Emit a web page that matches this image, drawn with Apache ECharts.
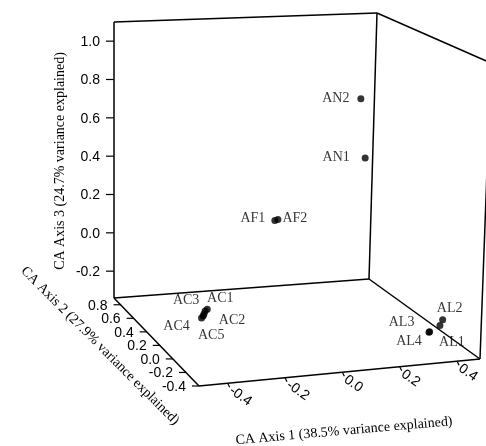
<!DOCTYPE html>
<html>
<head>
<meta charset="utf-8">
<script src="https://cdn.jsdelivr.net/npm/echarts@6/dist/echarts.min.js"></script>
<style>
html,body{margin:0;padding:0;background:#fff;}
#chart{width:486px;height:446px;}
</style>
</head>
<body>
<div id="chart"></div>
<script>
// ---- data ----
const names = ['AN1','AN2','AF1','AF2','AC1','AC2','AC3','AC4','AC5','AL1','AL2','AL3','AL4'];
const axis1 = [0.247, 0.226, -0.074, -0.063, -0.259, -0.271, -0.267, -0.280, -0.274, 0.402, 0.411, 0.366, 0.364];
const axis2 = [0.25, 0.25, 0.25, 0.25, 0.467, 0.467, 0.467, 0.467, 0.467, -0.18, -0.18, -0.18, -0.18];
const axis3 = [0.505, 0.808, 0.220, 0.224, -0.275, -0.298, -0.284, -0.318, -0.308, -0.232, -0.204, -0.258, -0.260];

const axis1Ticks = [-0.4, -0.2, 0.0, 0.2, 0.4];
const axis2Ticks = [-0.4, -0.2, 0.0, 0.2, 0.4, 0.6, 0.8];
const axis3Ticks = [-0.2, 0.0, 0.2, 0.4, 0.6, 0.8, 1.0];
const axis1Range = [-0.5, 0.48];
const axis2Range = [-0.4, 0.9];
const axis3Range = [-0.34, 1.1];

const axis1Title = 'CA Axis 1 (38.5% variance explained)';
const axis2Title = 'CA Axis 2 (27.9% variance explained)';
const axis3Title = 'CA Axis 3 (24.7% variance explained)';

// ---- layout: screen positions of the box corners (u,v,w in 0..1) ----
const corners = {
  '000': [199, 386], '100': [480, 359], '010': [114, 298], '110': [369, 279],
  '001': [201, 79],  '101': [491, 63],  '011': [114, 22],  '111': [377, 13]
};
const labelOffsets = {
  AN1: [-29, -1], AN2: [-25, 0], AF1: [-22, -2], AF2: [17, -1],
  AC1: [13, -11], AC2: [28, 6], AC3: [-19, -11], AC4: [-25, 8], AC5: [8, 19],
  AL1: [12, 17], AL2: [7, -11], AL3: [-28, -9], AL4: [-20, 9]
};

function lerp(a, b, t) { return [a[0] + (b[0] - a[0]) * t, a[1] + (b[1] - a[1]) * t]; }
function norm(val, r) { return (val - r[0]) / (r[1] - r[0]); }
function projN(u, v, w) {
  const c00 = lerp(corners['000'], corners['100'], u);
  const c10 = lerp(corners['010'], corners['110'], u);
  const c01 = lerp(corners['001'], corners['101'], u);
  const c11 = lerp(corners['011'], corners['111'], u);
  const c0 = lerp(c00, c10, v);
  const c1 = lerp(c01, c11, v);
  return lerp(c0, c1, w);
}
function proj(x, y, z) {
  return projN(norm(x, axis1Range), norm(y, axis2Range), norm(z, axis3Range));
}

const pointData = names.map((n, i) => ({
  name: n,
  value: proj(axis1[i], axis2[i], axis3[i]),
  label: { offset: labelOffsets[n] }
}));

const edges = [
  ['010','011'], ['011','111'], ['111','101'], ['110','111'], ['100','101'],
  ['010','110'], ['000','010'], ['000','100'], ['100','110']
];
const edgeData = edges.map(e => {
  const a = e[0].split('').map(Number), b = e[1].split('').map(Number);
  return { coords: [projN(a[0], a[1], a[2]), projN(b[0], b[1], b[2])] };
});

const tickItems = [];
axis1Ticks.forEach(t => tickItems.push({ value: proj(t, axis2Range[0], axis3Range[0]), kind: 1, t: t }));
axis2Ticks.forEach(t => tickItems.push({ value: proj(axis1Range[0], t, axis3Range[0]), kind: 2, t: t }));
axis3Ticks.forEach(t => tickItems.push({ value: proj(axis1Range[0], axis2Range[1], t), kind: 3, t: t }));

const SANS = '14px "Liberation Sans", Arial, sans-serif';
const SERIF = '14px "Liberation Serif", "Times New Roman", serif';
const deg = Math.PI / 180;

const chart = echarts.init(document.getElementById('chart'), null, { renderer: 'canvas' });
chart.setOption({
  animation: false,
  backgroundColor: '#fff',
  grid: { left: 0, right: 0, top: 0, bottom: 0 },
  xAxis: { type: 'value', min: 0, max: 486, show: false },
  yAxis: { type: 'value', min: 0, max: 446, inverse: true, show: false },
  series: [
    {
      type: 'lines', coordinateSystem: 'cartesian2d', silent: true,
      lineStyle: { color: '#000', width: 1.5, opacity: 1 },
      data: edgeData, z: 1
    },
    {
      type: 'custom', coordinateSystem: 'cartesian2d', silent: true, z: 2,
      data: tickItems.map(d => ({ value: d.value })),
      renderItem: function (params, api) {
        const d = tickItems[params.dataIndex];
        const p = api.coord(d.value);
        const txt = d.t.toFixed(1);
        if (d.kind === 1) {
          return { type: 'group', children: [
            { type: 'line', shape: { x1: p[0], y1: p[1], x2: p[0] + 2, y2: p[1] + 4 }, style: { stroke: '#000', lineWidth: 1.2 } },
            { type: 'text', x: p[0] + 3, y: p[1] + 6, rotation: -35 * deg,
              style: { text: txt, font: SANS, fill: '#000', textAlign: 'left', textVerticalAlign: 'middle' } }
          ]};
        } else if (d.kind === 2) {
          return { type: 'group', children: [
            { type: 'line', shape: { x1: p[0] - 7, y1: p[1], x2: p[0], y2: p[1] }, style: { stroke: '#000', lineWidth: 1.2 } },
            { type: 'text', x: p[0] - 13, y: p[1] + 1,
              style: { text: txt, font: SANS, fill: '#000', textAlign: 'right', textVerticalAlign: 'middle' } }
          ]};
        } else {
          return { type: 'group', children: [
            { type: 'line', shape: { x1: p[0] - 8, y1: p[1], x2: p[0], y2: p[1] }, style: { stroke: '#000', lineWidth: 1.2 } },
            { type: 'text', x: p[0] - 14, y: p[1] + 1,
              style: { text: txt, font: SANS, fill: '#000', textAlign: 'right', textVerticalAlign: 'middle' } }
          ]};
        }
      }
    },
    {
      type: 'scatter', z: 3, symbol: 'circle', symbolSize: 7,
      itemStyle: { color: '#000' },
      label: {
        show: true, position: 'inside', formatter: '{b}',
        color: '#000', fontFamily: '"Liberation Serif", "Times New Roman", serif', fontSize: 14,
        align: 'center', verticalAlign: 'middle'
      },
      data: pointData
    }
  ],
  graphic: [
    { type: 'text', x: 60, y: 161, rotation: 90 * deg,
      style: { text: axis3Title, font: SERIF, fill: '#000', textAlign: 'center', textVerticalAlign: 'middle' } },
    { type: 'text', x: 100, y: 346, rotation: -45 * deg,
      style: { text: axis2Title, font: SERIF, fill: '#000', textAlign: 'center', textVerticalAlign: 'middle' } },
    { type: 'text', x: 344, y: 431, rotation: 5 * deg,
      style: { text: axis1Title, font: SERIF, fill: '#000', textAlign: 'center', textVerticalAlign: 'middle' } }
  ]
});
</script>
</body>
</html>
